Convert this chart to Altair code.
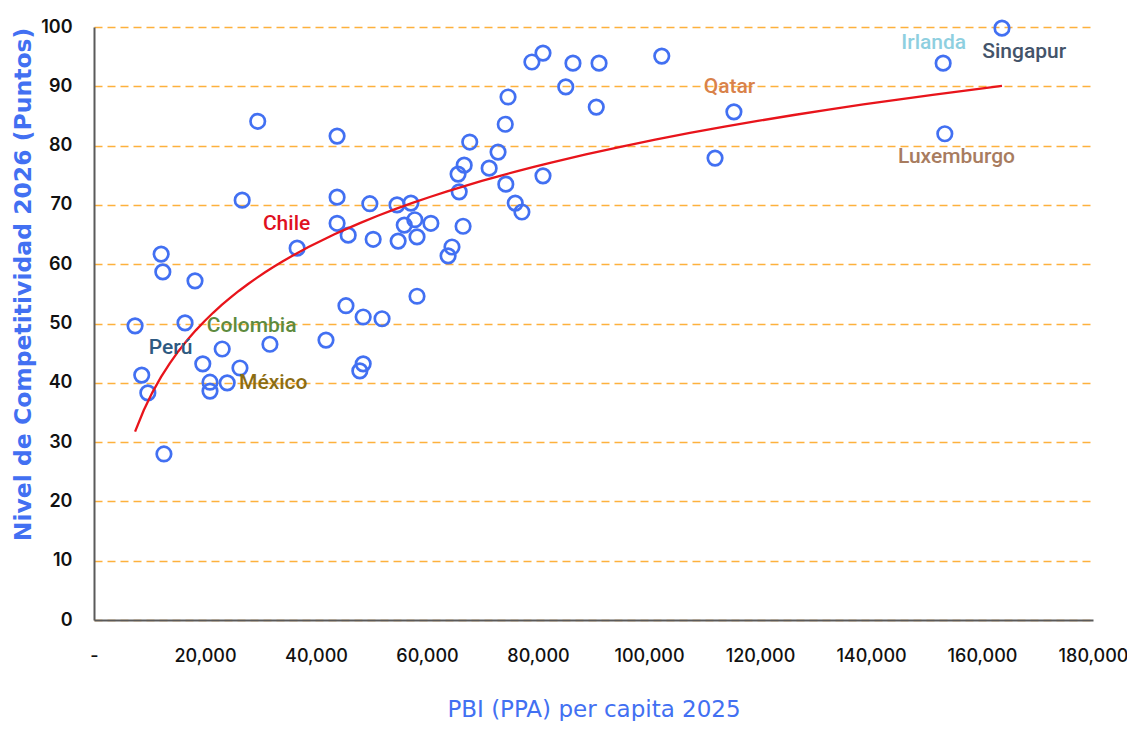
import altair as alt
import pandas as pd

# PBI (PPA) per capita 2025 (USD) and competitiveness score 2026
gdp = [7400, 8600, 9700, 12100, 12400, 12600, 16400, 18200, 19600, 20900,
       20900, 23100, 24000, 26300, 26700, 29500, 31700, 36600, 41800, 43800,
       43800, 43800, 45400, 45800, 47900, 48500, 48500, 49700, 50300, 51900,
       54600, 54800, 55900, 57100, 57800, 58200, 58200, 60700, 63800, 64500,
       65600, 65800, 66500, 66700, 67700, 71200, 72800, 74100, 74200, 74600,
       75900, 77100, 78900, 80900, 80900, 85000, 86300, 90500, 91000, 102300,
       111900, 115300, 153000, 153300, 163600]
score = [49.6, 41.3, 38.3, 61.7, 58.7, 28.0, 50.1, 57.2, 43.2, 40.1,
         38.6, 45.7, 40.0, 42.5, 70.8, 84.1, 46.5, 62.7, 47.2, 81.6,
         71.3, 66.9, 53.0, 64.9, 42.0, 43.2, 51.1, 70.2, 64.2, 50.8,
         70.0, 63.9, 66.6, 70.3, 67.5, 64.6, 54.6, 66.9, 61.4, 62.9,
         75.2, 72.2, 66.4, 76.7, 80.6, 76.2, 78.9, 83.6, 73.5, 88.2,
         70.3, 68.8, 94.1, 95.6, 74.9, 89.9, 93.9, 86.5, 93.9, 95.1,
         77.9, 85.7, 93.9, 82.0, 99.8]

# country annotations
label_names = ["Chile", "Colombia", "Perú", "México", "Qatar", "Irlanda", "Singapur", "Luxemburgo"]
label_x = [34700, 28400, 13800, 32300, 114500, 151300, 167600, 155400]
label_y = [66.8, 49.6, 45.9, 40.0, 89.8, 97.3, 95.8, 78.1]
label_colors = ["#E0101F", "#5E8B3E", "#2E5A82", "#8C6D12", "#D9824A", "#8ECFE0", "#44546A", "#A87C5F"]

x_ticks = [0, 20000, 40000, 60000, 80000, 100000, 120000, 140000, 160000, 180000]
y_ticks = [0, 10, 20, 30, 40, 50, 60, 70, 80, 90, 100]

df = pd.DataFrame({"gdp": gdp, "score": score})
lab = pd.DataFrame({"name": label_names, "x": label_x, "y": label_y, "c": label_colors})

BLUE = "#4270F2"

x_enc = alt.X(
    "gdp:Q",
    scale=alt.Scale(domain=[0, 180000], nice=False),
    axis=alt.Axis(
        values=x_ticks,
        labelExpr="datum.value == 0 ? '-' : format(datum.value, ',')",
        title="PBI (PPA) per capita 2025",
        grid=False,
        labelPadding=27,
        labelFlush=False,
        labelOverlap=False,
        titleY=96,
        titleBaseline="alphabetic",
    ),
)
y_enc = alt.Y(
    "score:Q",
    scale=alt.Scale(domain=[0, 100], nice=False),
    axis=alt.Axis(
        values=y_ticks,
        title="Nivel de Competitividad 2026 (Puntos)",
        grid=True,
        labelPadding=22,
        labelFontWeight=600,
        titleX=-71,
        titleY=257,
        titleBaseline="middle",
        titleAlign="center",
        titleAngle=-90,
    ),
)

points = alt.Chart(df).mark_point(
    filled=False, shape="circle", size=210, strokeWidth=2.7, color=BLUE, opacity=1
).encode(x=x_enc, y=y_enc)

trend = alt.Chart(df).transform_regression(
    "gdp", "score", method="log"
).mark_line(color="#E8141B", strokeWidth=2.3).encode(
    x=alt.X("gdp:Q"), y=alt.Y("score:Q")
)

labels = alt.Chart(lab).mark_text(
    font="Roboto", fontSize=21, fontWeight=500, baseline="middle", align="center"
).encode(
    x=alt.X("x:Q"), y=alt.Y("y:Q"), text="name:N", color=alt.Color("c:N", scale=None)
)

chart = alt.layer(points, trend, labels).properties(
    width=999,
    height=593,
    autosize=alt.AutoSizeParams(type="none"),
    padding={"left": 86, "top": 19, "right": 34, "bottom": 101},
).configure_view(stroke=None).configure_axis(
    domainColor="#5A5A5A",
    domainWidth=2,
    ticks=False,
    labelFont="Inter",
    labelFontSize=18,
    labelFontWeight=500,
    labelColor="#111111",
    titleColor=BLUE,
    gridColor="#FDB13D",
    gridDash=[8, 5],
    gridWidth=1.5,
).configure_axisX(
    titleFont="DejaVu Sans", titleFontSize=23, titleFontWeight="normal"
).configure_axisY(
    titleFont="DejaVu Sans", titleFontSize=23.5, titleFontWeight="bold"
)

chart.save("out.html", embed_options={"renderer": "svg", "actions": False})
